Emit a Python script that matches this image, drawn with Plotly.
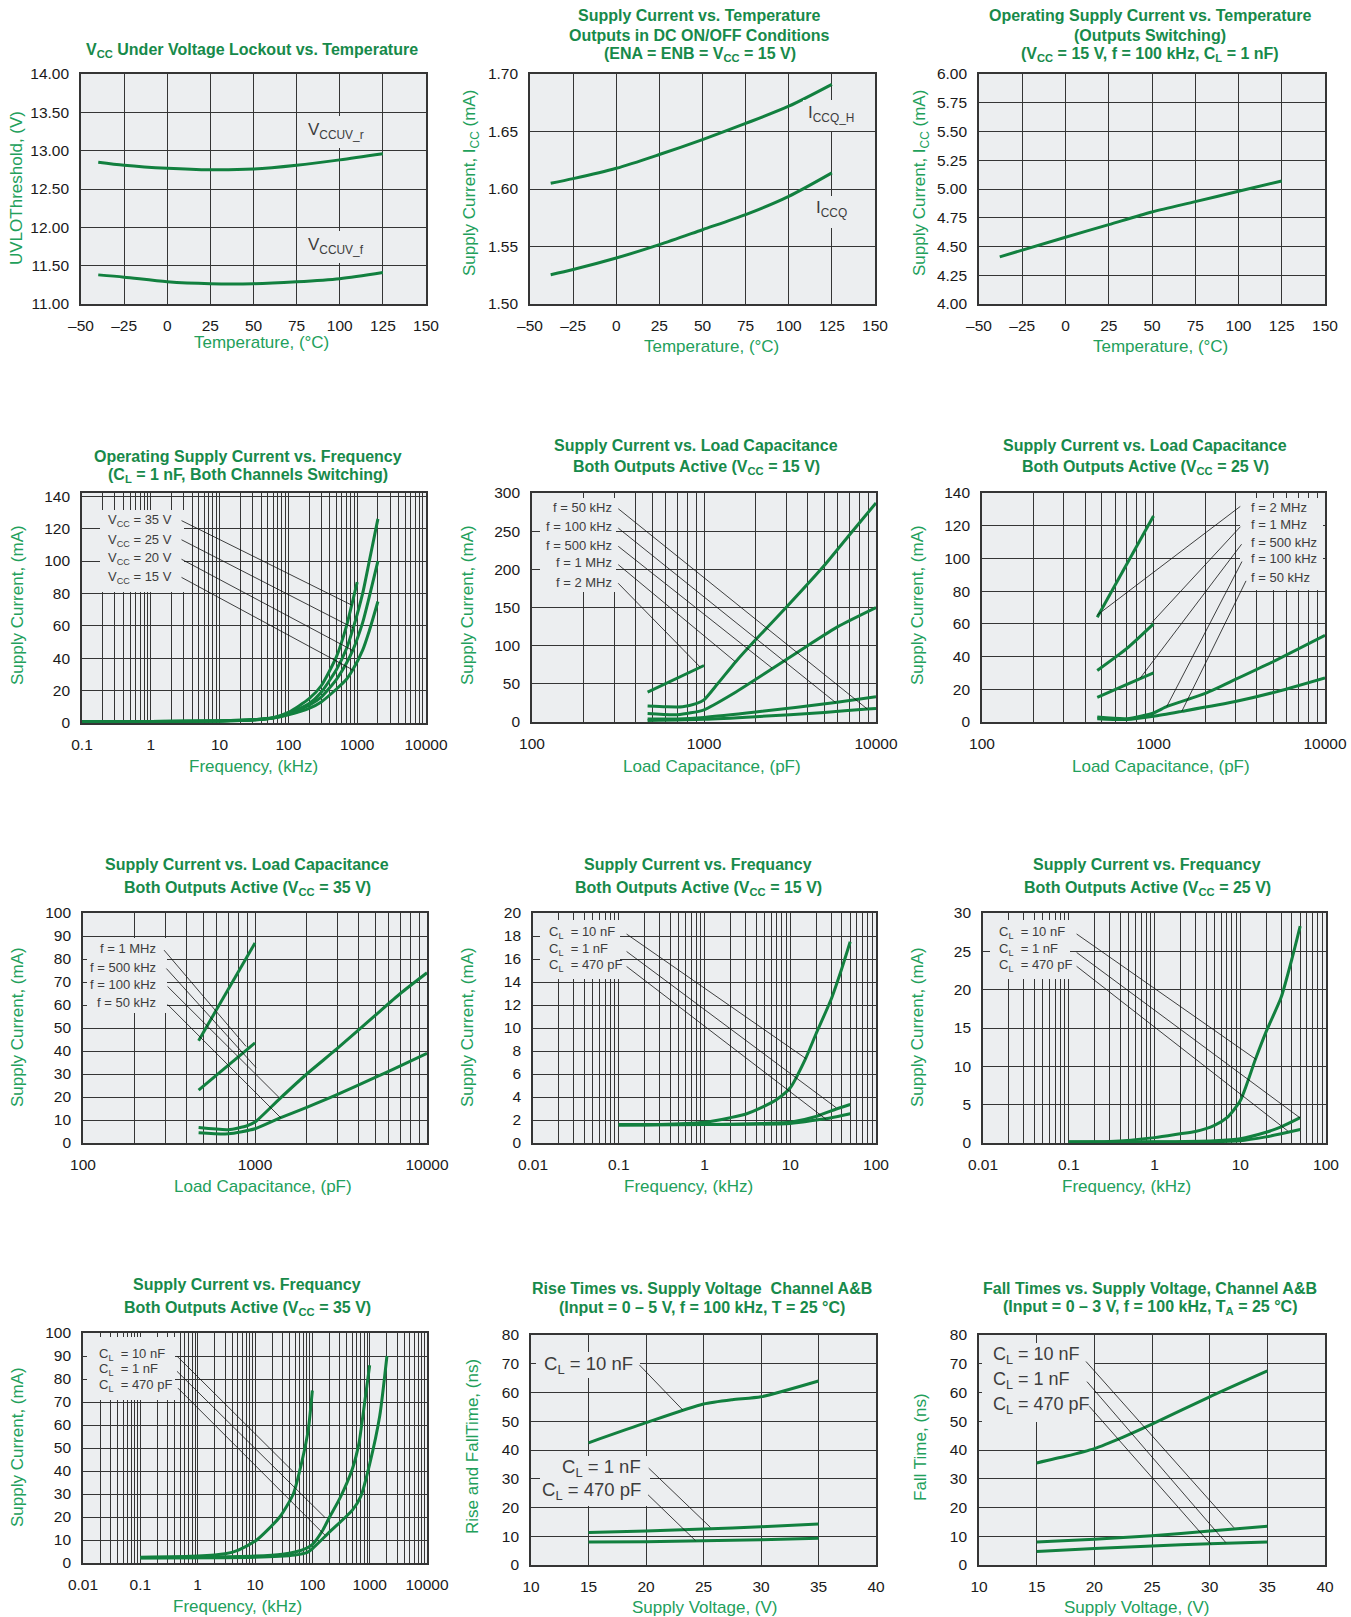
import numpy as np
import plotly.graph_objects as go

W, H = 1351, 1617
FONT = "Liberation Sans, Arial, Helvetica, sans-serif"
C_LINE = "#12803f"
C_TITLE = "#178a4a"
C_AXTITLE = "#22a05b"
C_BG = "#eceef0"
C_GRID = "#353535"
C_LABEL = "#3d3d3d"

# ======================= DATA =======================
# 1) VCC UVLO vs temperature
uvlo_temp = [-40, -25, 0, 25, 50, 75, 100, 125]
uvlo_rise = [12.85, 12.81, 12.77, 12.75, 12.76, 12.81, 12.88, 12.96]
uvlo_fall = [11.38, 11.35, 11.29, 11.265, 11.265, 11.29, 11.33, 11.41]

# 2) Supply current vs temperature (DC on/off)
iccq_temp = [-38, -25, 0, 25, 50, 75, 100, 125]
iccq_h = [1.605, 1.609, 1.618, 1.630, 1.643, 1.657, 1.672, 1.691]
iccq = [1.5255, 1.530, 1.540, 1.5516, 1.5646, 1.5777, 1.5936, 1.614]

# 3) Operating supply current vs temperature
icc_sw_temp = [-38, 0, 25, 50, 75, 100, 125]
icc_sw = [4.41, 4.58, 4.69, 4.80, 4.89, 4.98, 5.07]

# 4) Operating supply current vs frequency (kHz -> mA)
f4_a = [0.1, 1, 10, 30, 60, 100, 200, 300, 500, 700, 832, 1000]
i4_a = [0.8, 0.9, 1.3, 2.0, 3.3, 6.5, 15, 23, 41, 60, 72.8, 87]
f4_b = [0.1, 1, 10, 30, 60, 100, 200, 300, 500, 700, 877, 1200, 1500, 2000]
i4_b = [0.8, 0.9, 1.3, 2.0, 3.2, 6.0, 12, 19, 33, 46, 58.7, 80, 100, 126]
f4_c = [0.1, 1, 10, 30, 60, 100, 200, 300, 500, 700, 861, 1200, 1500, 2000]
i4_c = [0.8, 0.9, 1.3, 1.9, 3.1, 5.5, 11, 16, 27, 37, 44.8, 62, 78, 100]
f4_d = [0.1, 1, 10, 30, 60, 100, 200, 300, 500, 700, 861, 1200, 1500, 2000]
i4_d = [0.8, 0.9, 1.2, 1.8, 3.0, 5.0, 9, 13, 21, 27, 32.8, 45, 57, 75]

# 5) Supply current vs load capacitance, VCC = 15 V (pF -> mA)
c5_2m = [470, 1000]
i5_2m = [39, 74]
c5_1m = [470, 600, 750, 900, 1000, 1200, 1530, 2000, 3000, 5000, 7000, 10000]
i5_1m = [21, 20, 20, 24, 29, 50, 79, 108, 150, 205, 245, 287]
c5_500k = [470, 700, 1000, 1500, 2500, 4000, 6000, 10000]
i5_500k = [11, 9.5, 16, 38, 70, 100, 125, 150]
c5_100k = [470, 700, 1000, 2000, 5800, 10000]
i5_100k = [4, 4, 6, 13, 25.6, 33]
c5_50k = [470, 1000, 2000, 5000, 8900, 10000]
i5_50k = [2, 3.5, 7, 12.5, 17, 17.8]

# 6) Supply current vs load capacitance, VCC = 25 V
c6_2m = [470, 1000]
i6_2m = [64, 126]
c6_1m = [470, 700, 1000]
i6_1m = [31.5, 45, 60]
c6_500k = [470, 700, 1000]
i6_500k = [15, 23, 30]
c6_100k = [470, 700, 1000, 1200, 2000, 3000, 5000, 10000]
i6_100k = [3, 2, 5.5, 9.5, 17.5, 26, 37, 53]
c6_50k = [470, 700, 1000, 1460, 3000, 5000, 10000]
i6_50k = [2, 1.5, 3.5, 6.5, 12.5, 18, 27]

# 7) Supply current vs load capacitance, VCC = 35 V
c7_1m = [470, 1000]
i7_1m = [44.5, 87]
c7_500k = [470, 1000]
i7_500k = [23, 43.5]
c7_100k = [470, 700, 900, 1000, 1380, 2000, 3000, 5000, 7000, 10000]
i7_100k = [6.7, 5.8, 7.5, 9.1, 19, 30, 41, 55.5, 65, 74]
c7_50k = [470, 700, 1000, 1400, 2000, 3000, 5000, 7000, 10000]
i7_50k = [4.5, 4.0, 6.2, 10.9, 15.5, 21, 28.5, 33.5, 39]

# 8) Supply current vs frequency, VCC = 15 V (kHz -> mA)
f8_10n = [0.1, 0.3, 1, 2, 3, 5, 7, 10, 15, 20, 30, 40, 50]
i8_10n = [1.6, 1.6, 1.8, 2.2, 2.5, 3.2, 3.8, 4.8, 7.3, 9.5, 12.5, 15.2, 17.5]
f8_1n = [0.1, 1, 5, 10, 20, 30, 50]
i8_1n = [1.6, 1.6, 1.7, 1.8, 2.3, 2.8, 3.35]
f8_470p = [0.1, 1, 10, 20, 30, 50]
i8_470p = [1.55, 1.6, 1.7, 2.0, 2.2, 2.55]

# 9) Supply current vs frequency, VCC = 25 V
f9_10n = [0.1, 0.3, 1, 2, 3, 5, 7, 10, 15, 20, 30, 40, 50]
i9_10n = [0.15, 0.2, 0.7, 1.2, 1.5, 2.3, 3.3, 5.5, 10.9, 14.5, 19, 24, 28.3]
f9_1n = [0.1, 1, 5, 10, 20, 30, 50]
i9_1n = [0.1, 0.15, 0.3, 0.55, 1.4, 2.1, 3.3]
f9_470p = [0.1, 1, 10, 20, 30, 50]
i9_470p = [0.1, 0.12, 0.3, 0.8, 1.2, 1.75]

# 10) Supply current vs frequency, VCC = 35 V
f10_10n = [0.1, 1, 3, 5, 10.6, 27, 46.5, 65, 85, 100]
i10_10n = [2.5, 3, 4, 5.5, 9.9, 20, 30, 43.6, 58, 75]
f10_1n = [0.1, 1, 10, 30, 50, 80, 100, 150, 200, 300, 500, 650, 800, 1000]
i10_1n = [2.3, 2.5, 3, 3.8, 4.8, 6.5, 8, 14, 20, 28, 41, 52, 68, 86]
f10_470p = [0.1, 10, 50, 80, 100, 200, 500, 700, 1000, 1500, 2000]
i10_470p = [2.2, 2.5, 3.5, 4.5, 6.2, 13.5, 23, 29, 43, 64, 90]

# 11) Rise times vs supply voltage (V -> ns)
v11_10n = [15, 20, 25, 27.5, 30, 35]
rise_10n = [42.5, 49.5, 56, 57.5, 58.5, 64]
v11 = [15, 20, 25, 30, 35]
rise_1n = [11.3, 11.8, 12.5, 13.3, 14.3]
rise_470p = [8.0, 8.1, 8.4, 8.8, 9.3]

# 12) Fall times vs supply voltage
v12_10n = [15, 17.5, 20, 22.5, 25, 30, 35]
fall_10n = [35.5, 37.8, 40.5, 44.5, 49, 58.5, 67.5]
v12 = [15, 20, 25, 30, 35]
fall_1n = [8, 9, 10.2, 11.8, 13.5]
fall_470p = [4.7, 5.7, 6.6, 7.4, 8.0]

# tick definitions
temp_ticks = [-50, -25, 0, 25, 50, 75, 100, 125, 150]
temp_ticktext = ["\u201350", "\u201325", "0", "25", "50", "75", "100", "125", "150"]
volt_ticks = [10, 15, 20, 25, 30, 35, 40]

# ======================= LAYOUT =======================
# plot-area boxes in pixels: left, right, top, bottom
PANELS = {
    1: (81, 426, 74, 304),
    2: (530, 875, 74, 304),
    3: (979, 1325, 74, 304),
    4: (82, 426, 493, 723),
    5: (532, 876, 493, 722),
    6: (982, 1325, 493, 722),
    7: (83, 427, 913, 1143),
    8: (533, 876, 913, 1143),
    9: (983, 1326, 913, 1143),
    10: (83, 427, 1333, 1563),
    11: (531, 876, 1335, 1565),
    12: (979, 1325, 1335, 1565),
}
LOGX = {4, 5, 6, 7, 8, 9, 10}

fig = go.Figure()


def sfx(i):
    return "" if i == 1 else str(i)


def log_ticks(lo, hi):
    major = [10.0 ** k for k in range(lo, hi + 1)]
    text = [f"{v:g}" for v in major]
    minor = [m * 10.0 ** k for k in range(lo, hi) for m in range(2, 10)]
    return major, text, minor


def lin_ticks(lo, hi, step, fmt="{:g}"):
    vals = list(np.arange(lo, hi + step / 2, step))
    return vals, [fmt.format(v) for v in vals]


def make_axes(i, xr, xvals, xtext, yr, yvals, ytext, xminor=None):
    l, r, t, b = PANELS[i]
    s = sfx(i)
    common = dict(
        showgrid=True, gridcolor=C_GRID, gridwidth=1.3,
        showline=True, linecolor=C_GRID, linewidth=1.6, mirror=True,
        zeroline=False, ticks="", fixedrange=True, automargin=False,
        tickfont=dict(family=FONT, size=15.5, color="#1a1a1a"),
        ticklabelstandoff=7, tickmode="array",
    )
    xa = dict(common, domain=[l / W, r / W], anchor="y" + s,
              tickvals=xvals, ticktext=xtext)
    if i in LOGX:
        xa.update(type="log", range=[np.log10(xr[0]), np.log10(xr[1])],
                  minor=dict(tickmode="array", tickvals=xminor, showgrid=True,
                             gridcolor=C_GRID, gridwidth=1.2, ticks=""))
    else:
        xa.update(range=xr)
    ya = dict(common, domain=[1 - b / H, 1 - t / H], anchor="x" + s,
              range=yr, tickvals=yvals, ticktext=ytext)
    fig.update_layout({"xaxis" + s: xa, "yaxis" + s: ya})


def curve(i, x, y, smooth=0.8):
    s = sfx(i)
    fig.add_trace(go.Scatter(
        x=x, y=y, mode="lines", xaxis="x" + s, yaxis="y" + s,
        line=dict(color=C_LINE, width=3, shape="spline", smoothing=smooth),
        showlegend=False, hoverinfo="skip"))


def text(t, px, py, size=13, anchor="left", color=C_LABEL, bold=False, angle=0):
    if bold:
        t = "<b>" + t + "</b>"
    fig.add_annotation(
        xref="paper", yref="paper", x=px / W, y=1 - py / H, text=t,
        showarrow=False, xanchor=anchor, yanchor="middle", textangle=angle,
        font=dict(family=FONT, size=size, color=color))


def title(lines, cx, ys):
    for t, y in zip(lines, ys):
        text(t, cx, y, size=16, anchor="center", color=C_TITLE, bold=True)


def xtitle(t, cx, cy):
    text(t, cx, cy, size=17, anchor="center", color=C_AXTITLE)


def ytitle(t, cx, cy):
    text(t, cx, cy, size=17, anchor="center", color=C_AXTITLE, angle=-90)


def box(i, x0, x1, y0, y1):
    l, r, t, b = PANELS[i]
    s = sfx(i)
    fig.add_shape(type="rect", xref="x" + s + " domain", yref="y" + s + " domain",
                  x0=(x0 - l) / (r - l), x1=(x1 - l) / (r - l),
                  y0=(b - y1) / (b - t), y1=(b - y0) / (b - t),
                  fillcolor=C_BG, line=dict(width=0), layer="above")


def leader(i, tail, head):
    s = sfx(i)
    cx = (lambda v: float(np.log10(v))) if i in LOGX else (lambda v: v)
    fig.add_annotation(
        xref="x" + s, yref="y" + s, axref="x" + s, ayref="y" + s,
        x=cx(head[0]), y=head[1], ax=cx(tail[0]), ay=tail[1], text="",
        showarrow=True, arrowhead=0, arrowwidth=0.8, arrowcolor="#111111",
        standoff=0, startstandoff=0)


# ---------- Panel 1 ----------
yv, yt = lin_ticks(11, 14, 0.5, "{:.2f}")
make_axes(1, [-50, 150], temp_ticks, temp_ticktext, [11, 14], yv, yt)
curve(1, uvlo_temp, uvlo_rise)
curve(1, uvlo_temp, uvlo_fall)
box(1, 303, 368, 116, 148)
box(1, 303, 368, 231, 263)
text("V<sub>CCUV_r</sub>", 306, 131, size=17)
text("V<sub>CCUV_f</sub>", 306, 246, size=17)
title(["V<sub>CC</sub> Under Voltage Lockout vs. Temperature"], 252, [51])
xtitle("Temperature, (\u00b0C)", 261, 342)
ytitle("UVLOThreshold, (V)", 16, 188)

# ---------- Panel 2 ----------
yv, yt = lin_ticks(1.5, 1.7, 0.05, "{:.2f}")
make_axes(2, [-50, 150], temp_ticks, temp_ticktext, [1.5, 1.7], yv, yt)
curve(2, iccq_temp, iccq_h)
curve(2, iccq_temp, iccq)
box(2, 803, 864, 100, 131)
box(2, 811, 856, 196, 228)
text("I<sub>CCQ_H</sub>", 806, 114, size=17)
text("I<sub>CCQ</sub>", 814, 209, size=17)
title(["Supply Current vs. Temperature", "Outputs in DC ON/OFF Conditions",
       "(ENA = ENB = V<sub>CC</sub> = 15 V)"], 700, [16, 35, 54])
xtitle("Temperature, (\u00b0C)", 711, 347)
ytitle("Supply Current, I<sub>CC</sub> (mA)", 471, 183)

# ---------- Panel 3 ----------
yv, yt = lin_ticks(4, 6, 0.25, "{:.2f}")
make_axes(3, [-50, 150], temp_ticks, temp_ticktext, [4, 6], yv, yt)
curve(3, icc_sw_temp, icc_sw)
title(["Operating Supply Current vs. Temperature", "(Outputs Switching)",
       "(V<sub>CC</sub> = 15 V, f = 100 kHz, C<sub>L</sub> = 1 nF)"], 1150, [16, 35, 54])
xtitle("Temperature, (\u00b0C)", 1160, 347)
ytitle("Supply Current, I<sub>CC</sub> (mA)", 921, 183)

# ---------- Panel 4 ----------
xv, xt, xm = log_ticks(-1, 4)
yv, yt = lin_ticks(0, 140, 20)
make_axes(4, [0.1, 10000], xv, xt, [0, 142], yv, yt, xm)
for fx, iy in [(f4_d, i4_d), (f4_c, i4_c), (f4_b, i4_b), (f4_a, i4_a)]:
    curve(4, fx, iy, 0.6)
box(4, 100, 184, 510, 592)
for t, y in zip(["V<sub>CC</sub> = 35 V", "V<sub>CC</sub> = 25 V",
                 "V<sub>CC</sub> = 20 V", "V<sub>CC</sub> = 15 V"], [521, 540, 559, 577]):
    text(t, 174, y, anchor="right")
leader(4, (2.66, 125.4), (832, 72.8))
leader(4, (2.66, 113.6), (877, 58.7))
leader(4, (2.66, 101.6), (861, 44.8))
leader(4, (2.66, 90.4), (861, 32.8))
title(["Operating Supply Current vs. Frequency",
       "(C<sub>L</sub> = 1 nF, Both Channels Switching)"], 248, [456, 475])
xtitle("Frequency, (kHz)", 253, 767)
ytitle("Supply Current, (mA)", 17, 605)

# ---------- Panel 5 ----------
xv, xt, xm = log_ticks(2, 4)
yv, yt = lin_ticks(0, 300, 50)
make_axes(5, [100, 10000], xv, xt, [0, 300], yv, yt, xm)
for cx_, iy in [(c5_2m, i5_2m), (c5_1m, i5_1m), (c5_500k, i5_500k),
                (c5_100k, i5_100k), (c5_50k, i5_50k)]:
    curve(5, cx_, iy, 0.6)
box(5, 540, 616, 498, 592)
for t, y in zip(["f = 50 kHz", "f = 100 kHz", "f = 500 kHz", "f = 1 MHz", "f = 2 MHz"],
                [507, 526, 545, 563, 582]):
    text(t, 614, y, anchor="right")
leader(5, (311, 281), (8900, 17))
leader(5, (311, 255.6), (5816, 25.6))
leader(5, (311, 231.7), (2489, 70.6))
leader(5, (311, 207.8), (1516, 79.2))
leader(5, (311, 183.7), (950, 72))
title(["Supply Current vs. Load Capacitance",
       "Both Outputs Active (V<sub>CC</sub> = 15 V)"], 696, [445, 468])
xtitle("Load Capacitance, (pF)", 712, 767)
ytitle("Supply Current, (mA)", 467, 605)

# ---------- Panel 6 ----------
yv, yt = lin_ticks(0, 140, 20)
make_axes(6, [100, 10000], xv, xt, [0, 140], yv, yt, xm)
for cx_, iy in [(c6_2m, i6_2m), (c6_1m, i6_1m), (c6_500k, i6_500k),
                (c6_100k, i6_100k), (c6_50k, i6_50k)]:
    curve(6, cx_, iy, 0.6)
box(6, 1240, 1323, 498, 590)
for t, y in zip(["f = 2 MHz", "f = 1 MHz", "f = 500 kHz", "f = 100 kHz", "f = 50 kHz"],
                [507, 524, 542, 559, 577]):
    text(t, 1249, y, anchor="left")
leader(6, (3271, 132.5), (470, 65.4))
leader(6, (3271, 120.3), (978, 60.8))
leader(6, (3313, 109.6), (836, 26.8))
leader(6, (3313, 99), (1196, 9.55))
leader(6, (3497, 87.2), (1462, 6.5))
title(["Supply Current vs. Load Capacitance",
       "Both Outputs Active (V<sub>CC</sub> = 25 V)"], 1145, [445, 468])
xtitle("Load Capacitance, (pF)", 1161, 767)
ytitle("Supply Current, (mA)", 917, 605)

# ---------- Panel 7 ----------
yv, yt = lin_ticks(0, 100, 10)
make_axes(7, [100, 10000], xv, xt, [0, 100], yv, yt, xm)
for cx_, iy in [(c7_1m, i7_1m), (c7_500k, i7_500k), (c7_100k, i7_100k), (c7_50k, i7_50k)]:
    curve(7, cx_, iy, 0.6)
box(7, 87, 167, 938, 1013)
for t, y in zip(["f = 1 MHz", "f = 500 kHz", "f = 100 kHz", "f = 50 kHz"],
                [948, 967, 985, 1002]):
    text(t, 158, y, anchor="right")
leader(7, (291, 84.5), (887, 42))
leader(7, (300, 76.5), (1014, 32.8))
leader(7, (304, 68.7), (1384, 19.7))
leader(7, (304, 60.9), (1415, 10.9))
title(["Supply Current vs. Load Capacitance",
       "Both Outputs Active (V<sub>CC</sub> = 35 V)"], 247, [864, 888])
xtitle("Load Capacitance, (pF)", 263, 1186)
ytitle("Supply Current, (mA)", 17, 1027)

# ---------- Panel 8 ----------
xv8, xt8, xm8 = log_ticks(-2, 2)
yv, yt = lin_ticks(0, 20, 2)
make_axes(8, [0.01, 100], xv8, xt8, [0, 20], yv, yt, xm8)
for fx, iy in [(f8_10n, i8_10n), (f8_1n, i8_1n), (f8_470p, i8_470p)]:
    curve(8, fx, iy, 0.6)
box(8, 540, 620, 920, 979)
cl_labels = ["C<sub>L</sub>\u00a0\u00a0= 10 nF", "C<sub>L</sub>\u00a0\u00a0= 1 nF",
             "C<sub>L</sub>\u00a0\u00a0= 470 pF"]
for t, y in zip(cl_labels, [933, 949, 965]):
    text(t, 547, y, anchor="left")
leader(8, (0.1186, 18.26), (15.3, 7.33))
leader(8, (0.1186, 16.75), (34.3, 3.07))
leader(8, (0.1186, 15.45), (26.2, 2.06))
title(["Supply Current vs. Frequancy",
       "Both Outputs Active (V<sub>CC</sub> = 15 V)"], 698, [864, 888])
xtitle("Frequency, (kHz)", 688, 1186)
ytitle("Supply Current, (mA)", 467, 1027)

# ---------- Panel 9 ----------
yv, yt = lin_ticks(0, 30, 5)
make_axes(9, [0.01, 100], xv8, xt8, [0, 30], yv, yt, xm8)
for fx, iy in [(f9_10n, i9_10n), (f9_1n, i9_1n), (f9_470p, i9_470p)]:
    curve(9, fx, iy, 0.6)
box(9, 990, 1070, 920, 979)
for t, y in zip(cl_labels, [933, 949, 965]):
    text(t, 997, y, anchor="left")
leader(9, (0.1186, 27.4), (15.3, 10.9))
leader(9, (0.1186, 25.0), (50, 3.26))
leader(9, (0.1186, 23.2), (35.8, 1.57))
title(["Supply Current vs. Frequancy",
       "Both Outputs Active (V<sub>CC</sub> = 25 V)"], 1147, [864, 888])
xtitle("Frequency, (kHz)", 1126, 1186)
ytitle("Supply Current, (mA)", 917, 1027)

# ---------- Panel 10 ----------
xv10, xt10, xm10 = log_ticks(-2, 4)
yv, yt = lin_ticks(0, 100, 10)
make_axes(10, [0.01, 10000], xv10, xt10, [0, 100], yv, yt, xm10)
for fx, iy in [(f10_10n, i10_10n), (f10_1n, i10_1n), (f10_470p, i10_470p)]:
    curve(10, fx, iy, 0.6)
box(10, 87, 175, 1337, 1400)
for t, y in zip(cl_labels, [1354, 1369, 1385]):
    text(t, 97, y, anchor="left")
leader(10, (0.41, 90.6), (46.5, 39.7))
leader(10, (0.41, 84.0), (166, 19.8))
leader(10, (0.426, 76.7), (166, 12.1))
title(["Supply Current vs. Frequancy",
       "Both Outputs Active (V<sub>CC</sub> = 35 V)"], 247, [1284, 1308])
xtitle("Frequency, (kHz)", 238, 1606)
ytitle("Supply Current, (mA)", 17, 1447)

# ---------- Panel 11 ----------
yv, yt = lin_ticks(0, 80, 10)
make_axes(11, [10, 40], volt_ticks, [str(v) for v in volt_ticks], [0, 80], yv, yt)
curve(11, v11_10n, rise_10n, 0.6)
curve(11, v11, rise_1n, 0.6)
curve(11, v11, rise_470p, 0.6)
box(11, 536, 640, 1352, 1378)
box(11, 540, 650, 1456, 1506)
text("C<sub>L</sub> = 10 nF", 635, 1365, size=18.5, anchor="right")
text("C<sub>L</sub> = 1 nF", 643, 1468, size=18.5, anchor="right")
text("C<sub>L</sub> = 470 pF", 643, 1491, size=18.5, anchor="right")
leader(11, (19.3, 70.1), (23.2, 53.9))
leader(11, (20.1, 34.2), (25.6, 13.1))
leader(11, (20.05, 24.9), (24.3, 8.5))
title(["Rise Times vs. Supply Voltage\u00a0\u00a0Channel A&B",
       "(Input = 0 \u2013 5 V, f = 100 kHz, T = 25 \u00b0C)"], 702, [1288, 1307])
xtitle("Supply Voltage, (V)", 705, 1607)
ytitle("Rise and FallTime, (ns)", 472, 1447)

# ---------- Panel 12 ----------
make_axes(12, [10, 40], volt_ticks, [str(v) for v in volt_ticks], [0, 80], yv, yt)
curve(12, v12_10n, fall_10n, 0.6)
curve(12, v12, fall_1n, 0.6)
curve(12, v12, fall_470p, 0.6)
box(12, 982, 1094, 1343, 1422)
for t, y in zip(["C<sub>L</sub> = 10 nF", "C<sub>L</sub> = 1 nF", "C<sub>L</sub> = 470 pF"],
                [1355, 1380, 1405]):
    text(t, 991, y, size=18, anchor="left")
leader(12, (19.16, 71.3), (32.1, 13.0))
leader(12, (19.25, 64.3), (31.4, 7.8))
leader(12, (19.45, 55.7), (30.1, 7.2))
title(["Fall Times vs. Supply Voltage, Channel A&B",
       "(Input = 0 \u2013 3 V, f = 100 kHz, T<sub>A</sub> = 25 \u00b0C)"], 1150, [1288, 1307])
xtitle("Supply Voltage, (V)", 1137, 1607)
ytitle("Fall Time, (ns)", 920, 1447)

fig.update_layout(
    width=W, height=H, margin=dict(l=0, r=0, t=0, b=0, autoexpand=False),
    paper_bgcolor="white", plot_bgcolor=C_BG, showlegend=False,
    font=dict(family=FONT),
)
fig.write_html(
    "out.html",
    config={"responsive": False, "displayModeBar": False},
    post_script="document.body.style.margin='0';document.body.style.overflow='hidden';",
)
